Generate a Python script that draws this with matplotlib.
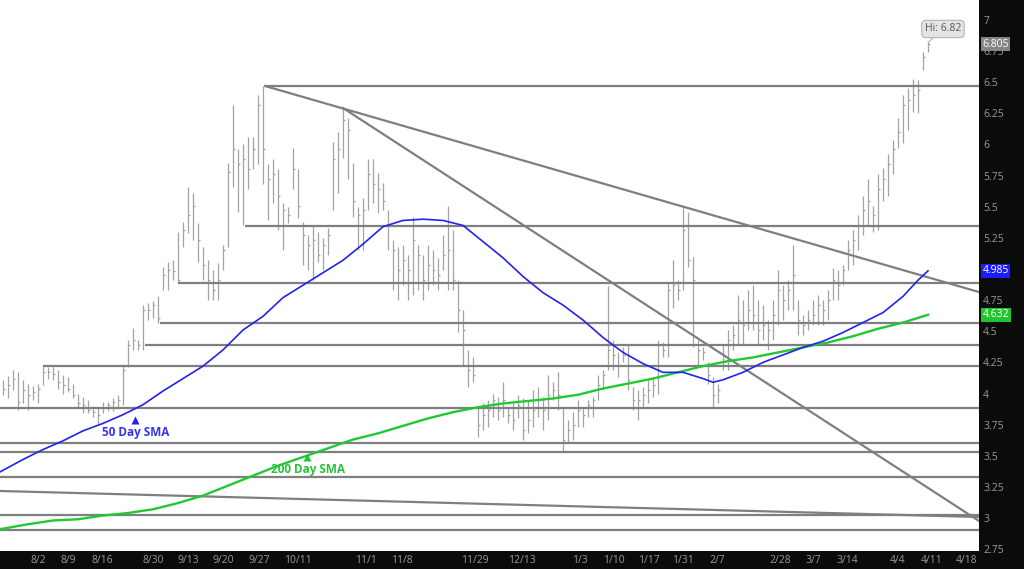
import numpy as np
import matplotlib.pyplot as plt

plt.rcParams['font.family'] = ['Open Sans', 'DejaVu Sans']

# ---- daily HLC bars ----
highs = [4.11, 4.14, 4.19, 4.17, 4.11, 4.08, 4.06, 4.08, 4.22, 4.21, 4.21, 4.19, 4.15, 4.13, 4.08, 4.00,
         3.97, 3.95, 3.90, 3.89, 3.93, 3.93, 3.96, 3.99, 4.22, 4.43, 4.53, 4.43, 4.71, 4.73, 4.74, 4.78,
         5.02, 5.06, 5.07, 5.30, 5.38, 5.66, 5.61, 5.37, 5.18, 5.07, 4.99, 5.05, 5.19, 5.85, 6.32, 5.96,
         6.00, 6.06, 6.06, 6.40, 6.47, 5.84, 5.88, 5.80, 5.53, 5.50, 5.97, 5.80, 5.38, 5.27, 5.35, 5.30,
         5.25, 5.33, 6.02, 6.10, 6.29, 6.21, 5.85, 5.50, 5.57, 5.88, 5.88, 5.77, 5.69, 5.47, 5.23, 5.18,
         5.19, 5.11, 5.42, 5.19, 5.11, 5.19, 5.15, 5.09, 5.27, 5.51, 5.31, 4.91, 4.67, 4.35, 4.29, 3.88,
         3.92, 3.95, 4.00, 3.97, 4.09, 3.89, 3.92, 3.99, 3.96, 3.95, 4.03, 4.05, 3.97, 4.15, 4.09, 4.17,
         3.89, 3.79, 3.85, 3.95, 3.89, 3.95, 3.97, 4.15, 4.19, 4.86, 4.43, 4.33, 4.37, 4.39, 4.05, 4.03,
         4.05, 4.11, 4.13, 4.43, 4.41, 4.89, 5.07, 4.91, 5.50, 5.46, 5.10, 4.43, 4.37, 4.25, 4.13, 4.08,
         4.39, 4.51, 4.55, 4.79, 4.75, 4.83, 4.87, 4.75, 4.71, 4.59, 4.75, 4.99, 4.87, 4.91, 5.19, 4.75,
         4.63, 4.67, 4.75, 4.79, 4.75, 4.83, 5.01, 4.99, 5.03, 5.23, 5.31, 5.43, 5.59, 5.72, 5.51, 5.76,
         5.81, 5.92, 6.04, 6.21, 6.40, 6.45, 6.53, 6.52, 6.74, 6.82]
lows = [3.99, 3.96, 4.03, 3.87, 3.92, 3.87, 3.95, 3.92, 4.07, 4.12, 4.11, 4.04, 4.00, 4.01, 3.96, 3.89,
        3.84, 3.84, 3.81, 3.75, 3.84, 3.86, 3.86, 3.88, 3.91, 4.21, 4.35, 4.35, 4.35, 4.59, 4.61, 4.57,
        4.83, 4.83, 4.91, 4.89, 5.18, 5.29, 5.23, 5.06, 4.91, 4.75, 4.75, 4.75, 4.99, 5.18, 5.66, 5.46,
        5.35, 5.64, 5.80, 5.84, 5.68, 5.39, 5.53, 5.31, 5.15, 5.37, 5.64, 5.41, 5.03, 4.99, 4.91, 5.06,
        4.99, 5.11, 5.47, 5.61, 5.89, 5.72, 5.42, 5.15, 5.15, 5.47, 5.53, 5.45, 5.47, 5.15, 4.83, 4.75,
        4.87, 4.75, 4.79, 4.83, 4.75, 4.83, 4.87, 4.83, 4.99, 4.83, 4.83, 4.49, 4.23, 4.05, 4.09, 3.65,
        3.71, 3.73, 3.81, 3.79, 3.81, 3.76, 3.71, 3.80, 3.63, 3.68, 3.73, 3.81, 3.71, 3.79, 3.95, 3.87,
        3.53, 3.60, 3.63, 3.73, 3.73, 3.81, 3.81, 3.95, 4.03, 4.19, 4.19, 4.13, 4.25, 4.03, 3.87, 3.79,
        3.89, 3.92, 3.97, 4.00, 4.29, 4.29, 4.69, 4.75, 4.83, 5.02, 4.37, 4.21, 4.27, 4.08, 3.89, 3.92,
        4.19, 4.19, 4.35, 4.39, 4.39, 4.51, 4.51, 4.39, 4.43, 4.35, 4.43, 4.55, 4.59, 4.67, 4.67, 4.47,
        4.47, 4.51, 4.55, 4.55, 4.55, 4.59, 4.75, 4.75, 4.87, 4.99, 5.03, 5.15, 5.27, 5.35, 5.30, 5.31,
        5.55, 5.59, 5.76, 5.97, 6.01, 6.12, 6.26, 6.25, 6.60, 6.74]
closes = [4.04, 4.07, 4.12, 3.93, 4.03, 3.99, 4.01, 4.04, 4.17, 4.17, 4.16, 4.09, 4.07, 4.04, 3.99, 3.92,
          3.91, 3.87, 3.85, 3.83, 3.88, 3.91, 3.93, 3.95, 4.19, 4.39, 4.43, 4.39, 4.67, 4.67, 4.71, 4.61,
          4.95, 4.99, 4.98, 4.91, 5.31, 5.43, 5.51, 5.23, 5.03, 4.91, 4.83, 4.91, 5.15, 5.78, 5.96, 5.84,
          5.88, 5.80, 5.96, 6.32, 5.96, 5.72, 5.76, 5.59, 5.47, 5.43, 5.80, 5.51, 5.27, 5.19, 5.23, 5.11,
          5.19, 5.27, 5.88, 5.96, 6.20, 6.12, 5.55, 5.43, 5.47, 5.76, 5.68, 5.64, 5.55, 5.35, 5.15, 4.99,
          5.07, 4.99, 5.23, 5.11, 4.91, 5.03, 4.99, 4.95, 5.11, 5.15, 4.91, 4.67, 4.51, 4.19, 4.15, 3.75,
          3.83, 3.87, 3.95, 3.87, 3.95, 3.83, 3.79, 3.91, 3.71, 3.79, 3.87, 3.95, 3.87, 3.99, 4.03, 3.99,
          3.63, 3.71, 3.75, 3.87, 3.83, 3.91, 3.95, 4.07, 4.15, 4.35, 4.31, 4.23, 4.31, 4.11, 3.95, 3.95,
          3.99, 4.03, 4.07, 4.19, 4.35, 4.83, 4.87, 4.83, 5.31, 5.07, 4.91, 4.35, 4.33, 4.15, 3.99, 4.03,
          4.31, 4.43, 4.47, 4.59, 4.55, 4.67, 4.63, 4.51, 4.55, 4.51, 4.63, 4.83, 4.75, 4.83, 4.95, 4.59,
          4.55, 4.59, 4.63, 4.71, 4.67, 4.75, 4.91, 4.87, 4.99, 5.15, 5.23, 5.35, 5.47, 5.55, 5.43, 5.64,
          5.72, 5.84, 5.96, 6.10, 6.32, 6.36, 6.40, 6.44, 6.70, 6.805]

# ---- moving averages (sampled along the bars) ----
sma50_x = [-0.6, 4, 8, 12, 16, 20, 24, 28, 32, 36, 40, 44, 48, 52, 56, 60, 64, 68, 72, 76, 80, 84, 88, 92,
           96, 100, 104, 108, 112, 116, 120, 124, 128, 132, 136, 140, 142, 144, 148, 152, 156, 160, 164,
           168, 172, 176, 180, 183, 185]
sma50 = [3.37, 3.47, 3.55, 3.62, 3.70, 3.76, 3.83, 3.91, 4.02, 4.12, 4.22, 4.35, 4.51, 4.62, 4.77, 4.87,
         4.97, 5.07, 5.20, 5.34, 5.39, 5.40, 5.39, 5.35, 5.22, 5.09, 4.94, 4.81, 4.71, 4.59, 4.45, 4.33,
         4.24, 4.17, 4.17, 4.12, 4.09, 4.11, 4.17, 4.25, 4.31, 4.37, 4.42, 4.49, 4.57, 4.65, 4.78, 4.91,
         4.985]
sma200_x = [-0.6, 5, 10, 15, 20, 25, 30, 35, 40, 45, 50, 55, 60, 65, 70, 75, 80, 85, 90, 95, 100, 105,
            110, 115, 120, 125, 130, 135, 140, 145, 150, 155, 160, 165, 170, 175, 180, 185]
sma200 = [2.91, 2.95, 2.98, 2.99, 3.02, 3.04, 3.07, 3.12, 3.18, 3.26, 3.34, 3.42, 3.49, 3.56, 3.63, 3.68,
          3.74, 3.80, 3.85, 3.89, 3.92, 3.94, 3.96, 3.99, 4.04, 4.08, 4.12, 4.17, 4.22, 4.26, 4.29, 4.33,
          4.37, 4.41, 4.46, 4.52, 4.57, 4.632]

# ---- drawn support / resistance ----
level_values = [6.47, 5.345, 4.888, 4.566, 4.39, 4.221, 3.884, 3.602, 3.53, 3.33, 3.022, 2.904]
level_starts = [52.4, 48.4, 35.0, 31.4, 28.4, 8.0, None, None, None, None, None, None]
trend_lines = [[(52.4, 6.47), (195.2, 4.815)],
               [(68.0, 6.293), (195.2, 2.976)],
               [(-0.6, 3.217), (195.2, 3.008)]]

# ---- axis labels ----
date_labels = ['8/2', '8/9', '8/16', '8/30', '9/13', '9/20', '9/27', '10/11', '11/1', '11/8', '11/29',
               '12/13', '1/3', '1/10', '1/17', '1/31', '2/7', '2/28', '3/7', '3/14', '4/4', '4/11', '4/18']
date_pos = [7.0, 13.0, 19.8, 30.0, 37.0, 44.0, 51.2, 59.0, 72.6, 79.8, 94.4, 103.8, 115.4, 122.2, 129.2,
            136.0, 142.8, 155.4, 162.0, 168.8, 179.0, 185.8, 192.8]
price_ticks = [2.75, 3, 3.25, 3.5, 3.75, 4, 4.25, 4.5, 4.75, 5, 5.25, 5.5, 5.75, 6, 6.25, 6.5, 6.75, 7]

GRAY_LINE = '#7f7f7f'
BAR_COL = '#a3a3a3'
BLUE = '#2323f0'
GREEN = '#22c832'
XMIN, XMAX = -0.6, 195.2

fig = plt.figure(figsize=(10.24, 5.69), dpi=100, facecolor='#0b0b0b')
ax = fig.add_axes([0, 18 / 569, 979 / 1024, 551 / 569])
ax.set_facecolor('white')
ax.set_xlim(XMIN, XMAX)
ax.set_ylim(2.735, 7.1606)
for sp in ax.spines.values():
    sp.set_visible(False)

# bars
idx = np.arange(len(highs))
ax.vlines(idx, lows, highs, color=BAR_COL, lw=0.9, zorder=2)
ax.hlines(closes, idx, idx + 0.45, color=BAR_COL, lw=0.9, zorder=2)

# horizontal levels
for val, start in zip(level_values, level_starts):
    x0 = XMIN if start is None else start
    ax.plot([x0, XMAX], [val, val], color=GRAY_LINE, lw=1.6, zorder=3, solid_capstyle='butt')

# trend lines
for (xa, ya), (xb, yb) in trend_lines:
    ax.plot([xa, xb], [ya, yb], color=GRAY_LINE, lw=1.6, zorder=3)

# moving averages
ax.plot(sma200_x, sma200, color=GREEN, lw=1.7, zorder=4)
ax.plot(sma50_x, sma50, color=BLUE, lw=1.2, zorder=4)

# labels for the averages
ax.plot(26.4, 3.787, marker='^', color=BLUE, ms=6, mec='none', zorder=5)
ax.text(26.6, 3.69, '50 Day SMA', color='#3535ee', fontsize=8.5, fontweight='bold',
        ha='center', va='center', zorder=5)
ax.plot(60.8, 3.49, marker='^', color=GREEN, ms=6, mec='none', zorder=5)
ax.text(61.0, 3.39, '200 Day SMA', color='#2ac23a', fontsize=8.5, fontweight='bold',
        ha='center', va='center', zorder=5)

# high callout
ax.annotate('Hi: 6.82', xy=(185, 6.82), xytext=(188.0, 6.928), ha='center', va='center',
            fontsize=7.5, color='#555555', zorder=6,
            bbox=dict(boxstyle='round,pad=0.3,rounding_size=0.4', fc='#e4e4e4', ec='#b5b5b5', lw=0.8),
            arrowprops=dict(arrowstyle='-', color='#b5b5b5', lw=0.8, shrinkA=0, shrinkB=0))

# axes ticks ("5" sits under the 50-day badge, as on the source chart)
ax.yaxis.tick_right()
ax.set_yticks(price_ticks)
ax.set_yticklabels(['' if t == 5 else '{:g}'.format(t) for t in price_ticks])
ax.set_xticks(date_pos)
ax.set_xticklabels(date_labels)
ax.tick_params(axis='y', length=0, pad=3, labelsize=7.5, labelcolor='#9a9a9a')
ax.tick_params(axis='x', length=0, pad=3, labelsize=7.5, labelcolor='#9a9a9a')

# last-value badges on the price scale
ytr = ax.get_yaxis_transform()
for val, txt, fc in [(6.805, '6.805', '#858585'), (4.985, '4.985', '#1c1cff'), (4.632, '4.632', '#1fc42f')]:
    ax.text(1.0035, val, txt, transform=ytr, ha='left', va='center', fontsize=7.5, color='white',
            zorder=10, clip_on=False,
            bbox=dict(boxstyle='square,pad=0.15', fc=fc, ec='none'))

fig.savefig('out.png', dpi=100, facecolor=fig.get_facecolor())
